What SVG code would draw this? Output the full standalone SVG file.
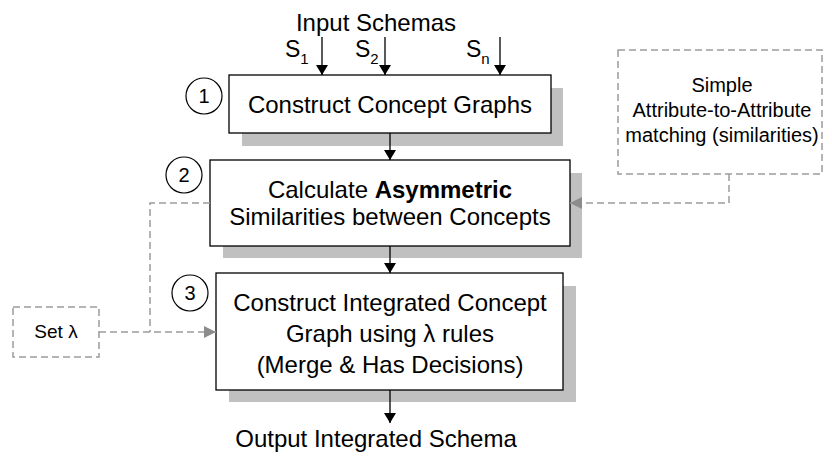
<svg xmlns="http://www.w3.org/2000/svg" width="832" height="457" viewBox="0 0 832 457">
<defs>
<marker id="ah" markerWidth="10" markerHeight="12" refX="10" refY="5" orient="auto" markerUnits="userSpaceOnUse" viewBox="0 0 10 10" preserveAspectRatio="none">
<path d="M0,0 L10,5 L0,10 Z" fill="#000"/>
</marker>
<marker id="ahg" markerWidth="12" markerHeight="12" refX="12" refY="6" orient="auto" markerUnits="userSpaceOnUse">
<path d="M0,0 L12,6 L0,12 Z" fill="#8c8c8c"/>
</marker>
<style>
text{font-family:"Liberation Sans",Arial,sans-serif;fill:#000}
.box{fill:#fff;stroke:#000;stroke-width:1.3}
.shadow{fill:#c0c0c0}
.num{fill:#fff;stroke:#000;stroke-width:1.2}
.dbox{fill:none;stroke:#9c9c9c;stroke-width:1.5;stroke-dasharray:7,4}
.dline{fill:none;stroke:#9c9c9c;stroke-width:1.5;stroke-dasharray:7,4}
.line{stroke:#000;stroke-width:1.3;fill:none}
.t24{font-size:24px;text-anchor:middle}
.t20{font-size:20px;text-anchor:middle}
.s{font-size:23px}
.sub{font-size:15px}
</style>
</defs>
<text x="376" y="31" class="t24">Input Schemas</text>
<g id="labels">
<text x="285" y="57" class="s">S<tspan class="sub" dy="7">1</tspan></text>
<text x="355" y="57" class="s">S<tspan class="sub" dy="7">2</tspan></text>
<text x="466" y="57" class="s">S<tspan class="sub" dy="7">n</tspan></text>
</g>
<g id="step1">
<rect x="242" y="88" width="321" height="58" class="shadow"/>
<rect x="229" y="75" width="322" height="58" class="box"/>
<circle cx="204" cy="96" r="18" class="num"/>
<text x="204" y="103" class="t20">1</text>
<text x="390" y="113" class="t24">Construct Concept Graphs</text>
</g>
<g id="step2">
<rect x="223" y="173" width="359" height="85" class="shadow"/>
<rect x="210" y="160" width="360" height="86" class="box"/>
<circle cx="184" cy="175" r="18" class="num"/>
<text x="184" y="182" class="t20">2</text>
<text x="390" y="198" class="t24">Calculate <tspan font-weight="bold">Asymmetric</tspan></text>
<text x="390" y="225" class="t24">Similarities between Concepts</text>
</g>
<g id="step3">
<rect x="229" y="286" width="347" height="116" class="shadow"/>
<rect x="216" y="273" width="347" height="117" class="box"/>
<circle cx="190" cy="293" r="18" class="num"/>
<text x="190" y="300" class="t20">3</text>
<text x="390" y="311" class="t24">Construct Integrated Concept</text>
<text x="390" y="342" class="t24">Graph using λ rules</text>
<text x="390" y="373" class="t24">(Merge &amp; Has Decisions)</text>
</g>
<g id="output">
<text x="376" y="447" class="t24">Output Integrated Schema</text>
</g>
<g id="simple">
<rect x="618" y="50" width="204" height="124" class="dbox"/>
<text x="722" y="92" class="t20">Simple</text>
<text x="722" y="117" class="t20">Attribute-to-Attribute</text>
<text x="722" y="142" class="t20">matching (similarities)</text>
</g>
<g id="setlambda">
<rect x="13" y="307" width="86" height="50" class="dbox"/>
<text x="56" y="338" font-size="19" text-anchor="middle">Set λ</text>
</g>
<g id="connectors">
<line x1="322" y1="37" x2="322" y2="75" class="line" marker-end="url(#ah)"/>
<line x1="385" y1="37" x2="385" y2="75" class="line" marker-end="url(#ah)"/>
<line x1="500" y1="37" x2="500" y2="75" class="line" marker-end="url(#ah)"/>
<line x1="390" y1="133" x2="390" y2="160" class="line" marker-end="url(#ah)"/>
<line x1="390" y1="246" x2="390" y2="273" class="line" marker-end="url(#ah)"/>
<line x1="390" y1="390" x2="390" y2="423" class="line" marker-end="url(#ah)"/>
<polyline points="729,174 729,203 570,203" class="dline" marker-end="url(#ahg)"/>
<polyline points="210,203 150,203 150,332" class="dline"/>
<line x1="99" y1="332" x2="216" y2="332" class="dline" marker-end="url(#ahg)"/>
</g>
</svg>
